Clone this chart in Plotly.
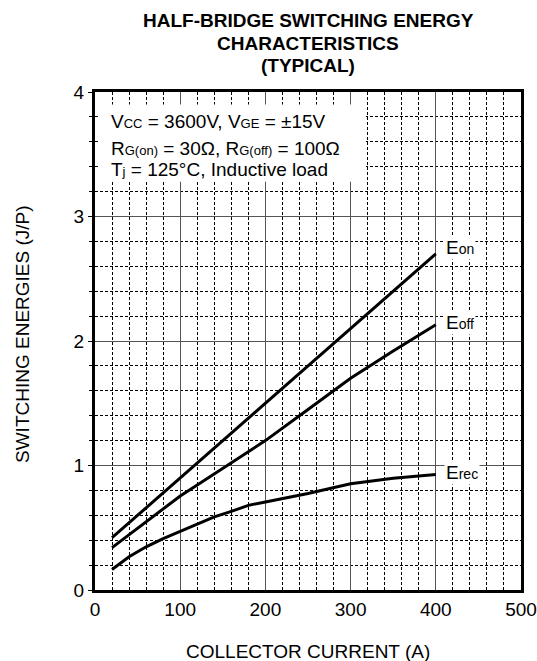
import plotly.graph_objects as go

current = [20, 40, 60, 80, 100, 120, 140, 160, 180, 200, 250, 300, 350, 400]
e_on = [0.42, 0.54, 0.66, 0.78, 0.90, 1.02, 1.14, 1.26, 1.38, 1.50, 1.80, 2.10, 2.40, 2.70]
e_off = [0.34, 0.443, 0.547, 0.65, 0.755, 0.844, 0.933, 1.022, 1.111, 1.20, 1.45, 1.70, 1.92, 2.13]
e_rec = [0.165, 0.267, 0.347, 0.413, 0.47, 0.528, 0.587, 0.632, 0.68, 0.707, 0.775, 0.853, 0.898, 0.928]

FONT = "Liberation Sans, Arial, Helvetica, sans-serif"
SM = "<span style='font-size:13px'>{}</span>"

fig = go.Figure()
for y in (e_on, e_off, e_rec):
    fig.add_trace(go.Scatter(x=current, y=y, mode="lines",
                             line=dict(color="black", width=3),
                             showlegend=False, hoverinfo="skip"))

axis_common = dict(
    showline=True, linecolor="black", linewidth=3, mirror=True,
    showgrid=True, gridcolor="#555555", gridwidth=1.2,
    zeroline=False, tickfont=dict(family=FONT, size=19, color="black"),
    fixedrange=True, automargin=False,
)
fig.update_xaxes(range=[0, 500], dtick=100, tick0=0, ticks="",
                 minor=dict(dtick=20, showgrid=True, gridcolor="black",
                            griddash="3px,2px", gridwidth=1, ticks=""),
                 **axis_common)
fig.update_yaxes(range=[0, 4], dtick=1, tick0=0, ticks="outside", ticklen=4,
                 tickcolor="black", tickwidth=1,
                 minor=dict(dtick=0.2, showgrid=True, gridcolor="black",
                            griddash="3px,2px", gridwidth=1, ticks="outside",
                            ticklen=3, tickcolor="black"),
                 **axis_common)

# white box behind conditions text
fig.add_shape(type="rect", xref="x", yref="y", x0=5, x1=318, y0=3.28, y1=3.90,
              fillcolor="white", line=dict(width=0), layer="above")

cond_lines = [
    ("V" + SM.format("CC") + " = 3600V, V" + SM.format("GE") + " = ±15V", 3.76),
    ("R" + SM.format("G(on)") + " = 30Ω, R" + SM.format("G(off)") + " = 100Ω", 3.55),
    ("T" + SM.format("j") + " = 125°C, Inductive load", 3.38),
]
for txt, yv in cond_lines:
    fig.add_annotation(x=17, y=yv, xref="x", yref="y", text=txt, showarrow=False,
                       xanchor="left", yanchor="middle",
                       font=dict(family=FONT, size=19, color="black"))

SM2 = "<span style='font-size:14px'>{}</span>"
curve_labels = [("E" + SM2.format("on"), 2.75), ("E" + SM2.format("off"), 2.145),
                ("E" + SM2.format("rec"), 0.94)]
for txt, yv in curve_labels:
    fig.add_annotation(x=410, y=yv, xref="x", yref="y", text=txt, showarrow=False,
                       xanchor="left", yanchor="middle", bgcolor="white",
                       font=dict(family=FONT, size=19, color="black"))

title_lines = [("HALF-BRIDGE SWITCHING ENERGY", 20.5),
               ("CHARACTERISTICS", 43), ("(TYPICAL)", 65)]
for txt, py in title_lines:
    fig.add_annotation(x=0.5, y=(590 - py) / 498, xref="paper", yref="paper",
                       text="<b>" + txt + "</b>", showarrow=False,
                       xanchor="center", yanchor="middle",
                       font=dict(family=FONT, size=19, color="black"))

fig.add_annotation(x=0.5, y=(590 - 651) / 498, xref="paper", yref="paper",
                   text="COLLECTOR CURRENT (A)", showarrow=False,
                   xanchor="center", yanchor="middle",
                   font=dict(family=FONT, size=19, color="black"))
fig.add_annotation(x=(22 - 95) / 426, y=(590 - 334) / 498, xref="paper", yref="paper",
                   text="SWITCHING ENERGIES (J/P)", showarrow=False, textangle=-90,
                   xanchor="center", yanchor="middle",
                   font=dict(family=FONT, size=19, color="black"))

fig.update_layout(width=537, height=661,
                  margin=dict(l=95, r=16, t=92, b=71, pad=0, autoexpand=False),
                  paper_bgcolor="white", plot_bgcolor="white",
                  font=dict(family=FONT, color="black"))

fig.write_html("out.html", config={"displayModeBar": False})
